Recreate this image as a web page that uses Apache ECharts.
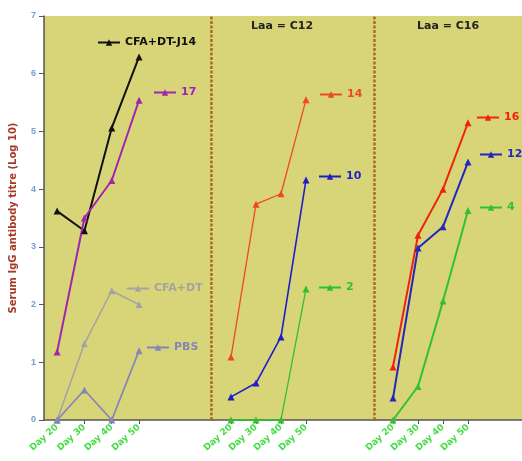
<!DOCTYPE html>
<html>
<head>
<meta charset="utf-8">
<script src="https://cdn.jsdelivr.net/npm/echarts@6/dist/echarts.min.js"></script>
<style>
  html, body { margin: 0; padding: 0; background: #fff; }
  #chart { width: 522px; height: 461px; }
</style>
</head>
<body>
<div id="chart"></div>
<script>
// sampling days
const days = [20, 30, 40, 50];
// panel 1 (controls + compound 17)
const cfaDtJ14 = [3.62, 3.28, 5.06, 6.29];
const c17 = [1.18, 3.5, 4.15, 5.54];
const cfaDt = [0, 1.32, 2.24, 2.0];
const pbs = [0, 0.52, 0, 1.2];
// panel 2, Laa = C12
const c14 = [1.09, 3.74, 3.92, 5.55];
const c10 = [0.40, 0.64, 1.44, 4.16];
const c2 = [0, 0, 0, 2.27];
// panel 3, Laa = C16
const c16 = [0.92, 3.2, 4.0, 5.15];
const c12 = [0.38, 2.98, 3.35, 4.47];
const c4 = [0, 0.58, 2.06, 3.63];
const panelTitles = ['Laa = C12', 'Laa = C16'];

const bold = 'DejaVu Sans';
const bg = '#d8d578';
const divColor = '#a86c1e';

// x ranges per panel (px placement only)
const xr = [[15.2, 76.9], [12.6, 77.8], [13, 71.6]];
const grids = [
  { left: 44, top: 16, bottom: 41, width: 168.5 },
  { left: 212.5, top: 16, bottom: 41, width: 163 },
  { left: 375.5, top: 16, bottom: 41, right: 0 }
];

function pts(vals) {
  return days.map((d, i) => [d, vals[i]]);
}

function line(name, vals, idx, color, width) {
  return {
    name: name,
    type: 'line',
    xAxisIndex: idx,
    yAxisIndex: idx,
    data: pts(vals),
    symbol: 'triangle',
    symbolSize: 7,
    clip: false,
    color: color,
    lineStyle: { color: color, width: width },
    itemStyle: { color: color },
    animation: false
  };
}

function divider(series, x) {
  series.markLine = {
    silent: true,
    symbol: 'none',
    label: { show: false },
    lineStyle: { color: divColor, type: [3, 1.5], width: 2.5 },
    data: [{ xAxis: x }]
  };
  return series;
}

function leg(name, left, y, color) {
  return {
    data: [name],
    left: left,
    top: y - 6,
    padding: 0,
    selectedMode: false,
    itemWidth: 22,
    itemHeight: 8,
    textStyle: { color: color, fontFamily: bold, fontWeight: 'bold', fontSize: 11 }
  };
}

const xAxes = grids.map((g, i) => ({
  type: 'value',
  gridIndex: i,
  min: xr[i][0],
  max: xr[i][1],
  splitLine: { show: false },
  axisLine: { lineStyle: { color: '#555', width: 1.5 } },
  axisTick: { customValues: days, length: 4, lineStyle: { color: '#555' } },
  axisLabel: {
    customValues: days,
    formatter: 'Day {value}',
    rotate: 42,
    margin: 6,
    color: '#44dd44',
    fontFamily: bold,
    fontWeight: 'bold',
    fontSize: 9
  }
}));

const yAxes = grids.map((g, i) => ({
  type: 'value',
  gridIndex: i,
  min: 0,
  max: 7,
  interval: 1,
  show: i === 0,
  name: i === 0 ? 'Serum IgG antibody titre (Log 10)' : '',
  nameLocation: 'middle',
  nameGap: 26,
  nameTextStyle: { color: '#a63a26', fontFamily: bold, fontWeight: 'bold', fontSize: 10 },
  splitLine: { show: false },
  axisLine: { show: true, lineStyle: { color: '#555', width: 1.5 } },
  axisTick: { show: true, length: 5, lineStyle: { color: '#555' } },
  axisLabel: { color: '#6f9fd4', fontFamily: 'Liberation Sans', fontWeight: 'bold', fontSize: 9, margin: 8 }
}));

const series = [
  divider(line('CFA+DT-J14', cfaDtJ14, 0, '#111111', 2), xr[0][1] - 0.5),
  line('17', c17, 0, '#a323b0', 2),
  line('CFA+DT', cfaDt, 0, '#a3a3a3', 1.5),
  line('PBS', pbs, 0, '#8585bb', 1.8),
  divider(line('14', c14, 1, '#ec4a22', 1.3), xr[1][1] - 0.5),
  line('10', c10, 1, '#1f1fc8', 1.6),
  line('2', c2, 1, '#2fbf2f', 1.3),
  line('16', c16, 2, '#f2200f', 2),
  line('12', c12, 2, '#2525c0', 2),
  line('4', c4, 2, '#33c033', 2)
];

const chart = echarts.init(document.getElementById('chart'));
chart.setOption({
  animation: false,
  backgroundColor: '#fff',
  title: [
    { text: panelTitles[0], left: 251, top: 21, padding: 0,
      textStyle: { color: '#222', fontFamily: bold, fontWeight: 'bold', fontSize: 11 } },
    { text: panelTitles[1], left: 417, top: 21, padding: 0,
      textStyle: { color: '#222', fontFamily: bold, fontWeight: 'bold', fontSize: 11 } }
  ],
  legend: [
    leg('CFA+DT-J14', 97, 43, '#111111'),
    leg('17', 153, 93, '#a323b0'),
    leg('CFA+DT', 126, 289, '#a3a3a3'),
    leg('PBS', 146, 348, '#8585bb'),
    leg('14', 319, 95, '#ec4a22'),
    leg('10', 318, 177, '#1f1fc8'),
    leg('2', 318, 288, '#2fbf2f'),
    leg('16', 476, 118, '#f2200f'),
    leg('12', 479, 155, '#2525c0'),
    leg('4', 479, 208, '#33c033')
  ],
  grid: grids.map(g => Object.assign({ show: true, backgroundColor: bg, borderWidth: 0 }, g)),
  xAxis: xAxes,
  yAxis: yAxes,
  series: series
});
</script>
</body>
</html>
